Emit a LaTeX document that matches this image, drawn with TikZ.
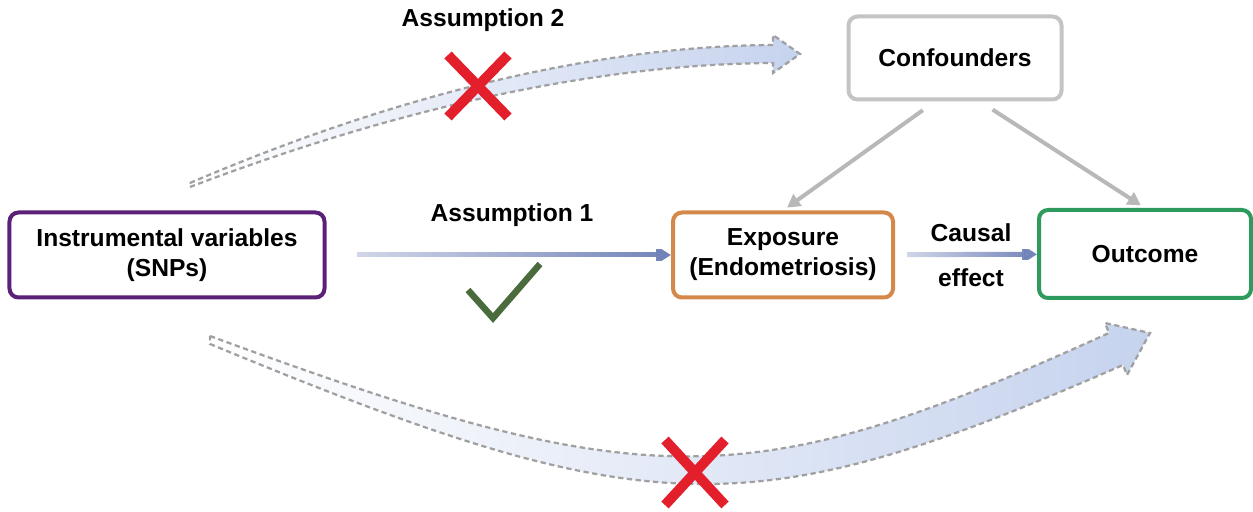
\documentclass[tikz,border=0pt]{standalone}
\usepackage{fontspec}
\setmainfont{Liberation Sans}
\usepackage{xcolor}
\usepackage{tikz}
\usetikzlibrary{calc,arrows.meta,fadings}
\definecolor{ivpurple}{HTML}{5B2078}
\definecolor{exporange}{HTML}{D4894A}
\definecolor{outgreen}{HTML}{2E9A5E}
\definecolor{confgray}{HTML}{C4C4C4}
\definecolor{linkgray}{HTML}{B8B8B8}
\definecolor{pathblue}{HTML}{7082B8}
\definecolor{bandfill}{HTML}{C6D3EE}
\definecolor{banddash}{HTML}{A0A0A0}
\definecolor{crossred}{HTML}{E31F2C}
\definecolor{tickgreen}{HTML}{4A6B3C}
\tikzfading[name=ivfade,left color=transparent!75,right color=transparent!0]
\tikzset{
  var/.style={draw,line width=0.8mm,rounded corners=1.8mm,fill=white,align=center,
    minimum height=17mm,font=\bfseries\fontsize{14}{17}\selectfont},
  lbl/.style={font=\bfseries\fontsize{14}{17}\selectfont,inner sep=1pt},
  ar/.style={-{Triangle[length=3mm,width=3.6mm]},line width=1mm,pathblue,path fading=ivfade},
  link/.style={-{Triangle[length=2.6mm,width=2.8mm]},line width=0.8mm,linkgray},
  band/.style={left color=white,right color=bandfill,draw=banddash,densely dashed,line width=0.45mm},
  cross/.style={crossred,line width=2mm}
}
\begin{document}
\begin{tikzpicture}[x=0.2mm,y=-0.2mm]
\useasboundingbox (0,0) rectangle (1253,512);
% bands
\path[band] (190,183) .. controls (400,93) and (600,46) .. (773,45) -- (773,35) -- (800,54) -- (773,73) -- (773,63) .. controls (600,64) and (400,107) .. (190,187) -- cycle;
\path[band] (210,336) .. controls (650,498) and (750,496) .. (1109,333) -- (1105,323) -- (1150,333) -- (1127,375) -- (1123,365) .. controls (750,528) and (650,526) .. (210,344) -- cycle;
% boxes
\node[var,draw=ivpurple,minimum width=63mm] (iv) at (167,255) {Instrumental variables\\(SNPs)};
\node[var,draw=exporange,minimum width=44mm] (exp) at (783,255) {Exposure\\(Endometriosis)};
\node[var,draw=outgreen,minimum width=42.4mm,minimum height=17.6mm] (out) at (1145,254) {Outcome};
\node[var,draw=confgray,minimum width=42.6mm,minimum height=16.6mm] (conf) at (955,58) {Confounders};
\node[lbl] (asone) at (512,215) {Assumption 1};
\node[lbl] (astwo) at (483,20) {Assumption 2};
\node[lbl] (causal) at (971,233) {Causal};
\node[lbl] (effect) at (971,278) {effect};
% arrows
\draw[ar,shorten <=6mm] (iv) -- (exp);
\draw[ar,shorten <=2.4mm] (exp) -- (out);
\draw[link,shorten <=3mm,shorten >=1mm] ($(conf.south)+(-20,0)$) -- (exp.north);
\draw[link,shorten <=3mm,shorten >=1mm] ($(conf.south)+(25,0)$) -- (out.north);
% marks
\draw[cross] (448,55) -- (508,117) (508,55) -- (448,117);
\draw[cross] (665,440) -- (725,505) (725,440) -- (665,505);
\draw[tickgreen,line width=1.3mm] (468,290) -- (493,318) -- (540,264);
\end{tikzpicture}
\end{document}
